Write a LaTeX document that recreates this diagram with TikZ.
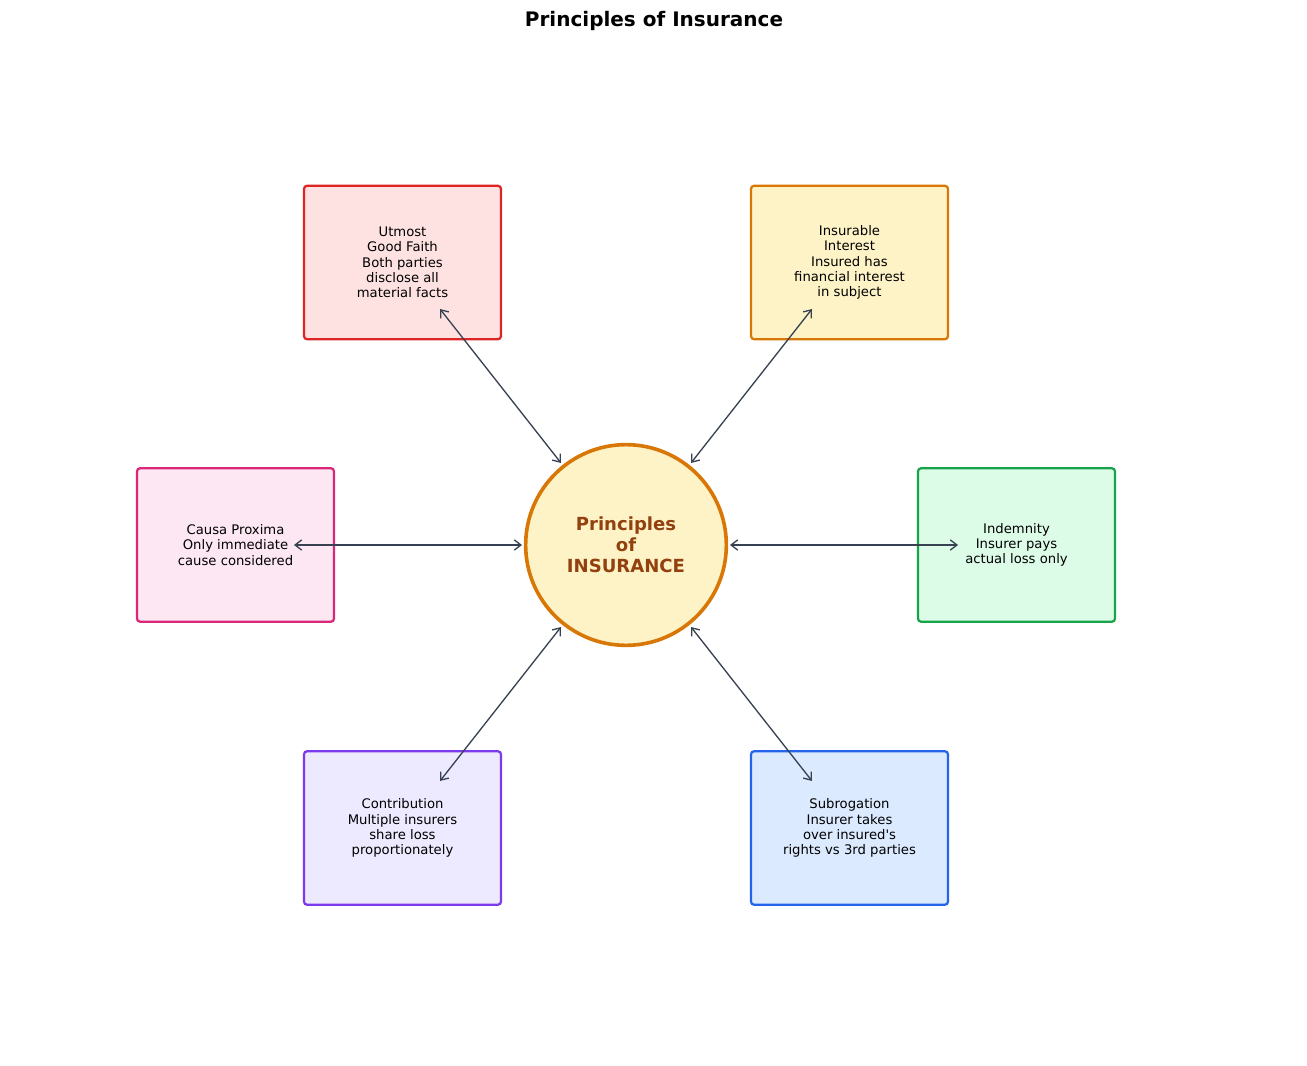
\documentclass[tikz,border=0pt]{standalone}
\usepackage{fontspec}
\setmainfont{DejaVu Sans}
\newfontfamily\plainfam{DejaVu Sans}
\usetikzlibrary{arrows.meta}
\definecolor{arrowc}{HTML}{374151}
\definecolor{centerfill}{HTML}{FEF3C7}
\definecolor{centerdraw}{HTML}{D97706}
\definecolor{centertext}{HTML}{92400E}
\definecolor{redd}{HTML}{DC2626}\definecolor{redf}{HTML}{FEE2E2}
\definecolor{ambd}{HTML}{D97706}\definecolor{ambf}{HTML}{FEF3C7}
\definecolor{pinkd}{HTML}{DB2777}\definecolor{pinkf}{HTML}{FCE7F3}
\definecolor{grnd}{HTML}{16A34A}\definecolor{grnf}{HTML}{DCFCE7}
\definecolor{purd}{HTML}{7C3AED}\definecolor{purf}{HTML}{EDE9FE}
\definecolor{blud}{HTML}{2563EB}\definecolor{bluf}{HTML}{DBEAFE}
\tikzset{
  pbox/.style={rounded corners=2.2pt, line width=1.6pt, minimum width=141.8pt, minimum height=110.5pt,
    align=center, font=\plainfam\fontsize{9.5}{11}\selectfont, inner sep=0pt},
  link/.style={draw=arrowc, line width=0.95pt, {Straight Barb[length=4.8pt,width=7.4pt]}-{Straight Barb[length=4.8pt,width=7.4pt]}},
}
\begin{document}
\begin{tikzpicture}[x=0.72pt, y=-0.72pt]
\useasboundingbox (0,0) rectangle (1307,1066);
\node[font=\fontsize{14.4}{16}\selectfont\bfseries] (title) at (654,21) {Principles of Insurance};
\node[circle, draw=centerdraw, fill=centerfill, line width=2.6pt, minimum size=144.5pt, inner sep=0pt,
  align=center, text=centertext, font=\fontsize{13}{15}\selectfont\bfseries] (c) at (626,545) {Principles\\of\\INSURANCE};
\node[pbox, draw=redd, fill=redf] (utmost) at (402.5,262.5) {Utmost\\Good Faith\\Both parties\\disclose all\\material facts};
\node[pbox, draw=ambd, fill=ambf] (insurable) at (849.5,262.5) {Insurable\\Interest\\Insured has\\financial interest\\in subject};
\node[pbox, draw=pinkd, fill=pinkf] (causa) at (235.5,545) {Causa Proxima\\Only immediate\\cause considered};
\node[pbox, draw=grnd, fill=grnf] (indemnity) at (1016.5,545) {Indemnity\\Insurer pays\\actual loss only};
\node[pbox, draw=purd, fill=purf] (contrib) at (402.5,828) {Contribution\\Multiple insurers\\share loss\\proportionately};
\node[pbox, draw=blud, fill=bluf] (subrog) at (849.5,828) {Subrogation\\Insurer takes\\over insured's\\rights vs 3rd parties};
\coordinate (u1) at (440,309); \coordinate (u2) at (561,463);
\coordinate (i1) at (812,309); \coordinate (i2) at (691,463);
\coordinate (ca1) at (294,545); \coordinate (ca2) at (522,545);
\coordinate (in1) at (958,545); \coordinate (in2) at (730,545);
\coordinate (co1) at (440,781); \coordinate (co2) at (561,627);
\coordinate (s1) at (812,781); \coordinate (s2) at (691,627);
\draw[link] (u1) -- (u2);
\draw[link] (i1) -- (i2);
\draw[link] (ca1) -- (ca2);
\draw[link] (in1) -- (in2);
\draw[link] (co1) -- (co2);
\draw[link] (s1) -- (s2);
\end{tikzpicture}
\end{document}
